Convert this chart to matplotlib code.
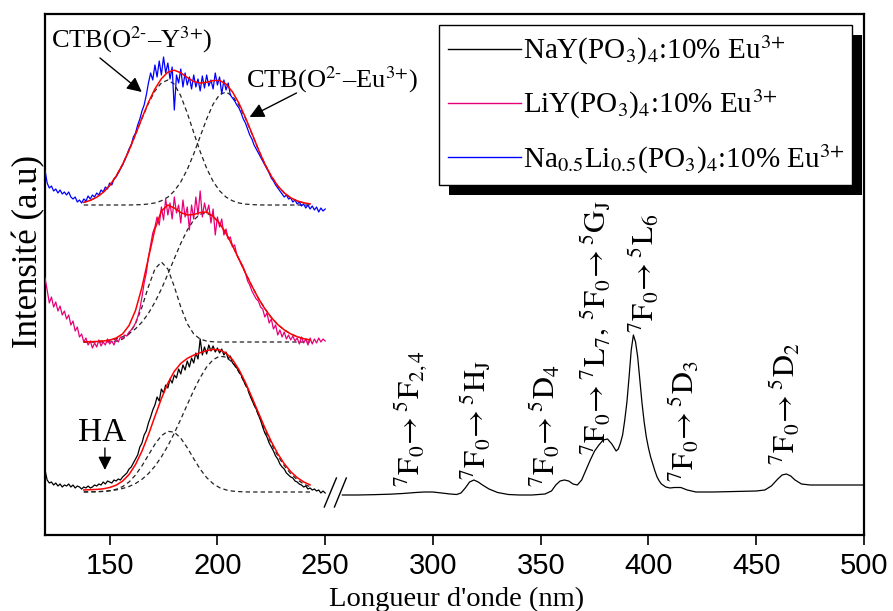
import matplotlib
matplotlib.use('Agg')
import matplotlib.pyplot as plt
from matplotlib.patches import Rectangle
from matplotlib.lines import Line2D

plt.rcParams['font.family'] = ['Liberation Serif', 'DejaVu Serif']
plt.rcParams['mathtext.fontset'] = 'stix'

# ---------------- data (intensity in arbitrary units, stacked) ----------------
x_exc = list(range(120, 251))          # 120 ... 250 nm, 1 nm step
x_fit = list(range(138, 244, 3))       # fit grid 138 ... 243 nm

# NaY(PO3)4 : 10% Eu3+  (black) - CTB region
nay_exc = [65, 55, 52, 53, 50, 52, 49, 51, 48, 50, 49, 51, 48, 50, 47, 49, 48, 46, 48, 47,
           49, 47, 48, 50, 49, 51, 50, 53, 51, 54, 53, 52, 55, 54, 56, 55, 58, 60, 62, 66,
           68, 72, 76, 80, 88, 92, 100, 104, 112, 118, 125, 130, 138, 134, 146, 142, 150, 147, 156, 152,
           160, 157, 166, 161, 170, 165, 174, 168, 177, 172, 182, 176, 196, 180, 188, 181, 190, 184, 189, 183,
           187, 182, 186, 180, 183, 176, 179, 172, 170, 167, 163, 160, 155, 150, 147, 140, 135, 130, 126, 120,
           115, 108, 102, 98, 92, 88, 84, 79, 76, 71, 68, 66, 62, 60, 58, 57, 54, 53, 51, 50,
           48, 49, 46, 47, 45, 46, 44, 45, 42, 44, 42]
nay_fit = [45, 45.3, 45.6, 46.2, 47.5, 49.8, 53.9, 60.5, 70.5, 83.9, 100.4, 118.6, 136.4, 151.8, 163.7,
           171.6, 176.6, 179.9, 182.3, 184.4, 185.6, 185.1, 182, 175.4, 165.4, 152.5, 137.7, 122.4, 107.3,
           93.4, 81.3, 71.3, 63.4, 57.4, 53.1, 50.1]
nay_g1 = [43.0, 43.1, 43.2, 43.5, 44.2, 45.7, 48.4, 53.0, 60.0, 69.2, 80.0, 90.8, 99.3, 103.7, 102.8,
          96.8, 87.3, 76.3, 65.9, 57.4, 51.3, 47.3, 45.1, 43.9, 43.4, 43.1, 43.0, 43.0, 43.0,
          43.0, 43.0, 43.0, 43.0, 43.0, 43.0, 43.0]
nay_g2 = [43.1, 43.2, 43.4, 43.7, 44.3, 45.1, 46.5, 48.5, 51.5, 55.7, 61.4, 68.8, 78.1, 89.1, 101.9,
          115.8, 130.3, 144.6, 157.4, 168.0, 175.3, 178.8, 177.9, 172.5, 163.0, 150.4, 135.7, 120.4, 105.3,
          91.4, 79.3, 69.3, 61.4, 55.4, 51.1, 48.1]

# LiY(PO3)4 : 10% Eu3+  (pink)
liy_exc = [257, 245, 232, 238, 228, 233, 224, 229, 220, 224, 216, 220, 210, 214, 204, 208, 198, 201, 193, 197,
           190, 194, 187, 192, 188, 195, 189, 193, 190, 196, 191, 194, 190, 196, 193, 198, 196, 200, 199, 203,
           205, 208, 212, 218, 226, 238, 252, 262, 278, 290, 302, 308, 318, 310, 328, 315, 336, 320, 332, 316,
           338, 322, 330, 312, 335, 318, 328, 305, 330, 316, 338, 320, 344, 318, 332, 322, 330, 312, 326, 300,
           318, 308, 316, 300, 306, 296, 298, 288, 290, 280, 276, 272, 268, 262, 254, 250, 244, 240, 236, 234,
           228, 226, 218, 222, 212, 216, 206, 210, 200, 205, 198, 203, 196, 200, 195, 199, 194, 197, 191, 198,
           192, 196, 190, 197, 191, 196, 192, 197, 193, 196, 194]
liy_fit = [193.1, 193.3, 193.5, 194.0, 194.9, 197.0, 201.1, 209.5, 224.6, 247.9, 277.1, 305.8, 324, 330, 327,
           322.5, 320, 320.5, 322.5, 323, 318.7, 311.6, 301.5, 289.4, 275.8, 262.0, 248.9, 236.7, 226.3,
           217.5, 210.4, 205.1, 201.1, 198.3, 196.3, 195.0]
liy_g1 = [193, 193, 193, 193, 193.2, 193.9, 195.9, 201.0, 211.4, 228.0, 248.4, 266.0, 273, 266.0, 248.4,
          228.0, 211.4, 201.0, 195.9, 193.9, 193.2, 193, 193, 193, 193, 193, 193, 193, 193,
          193, 193, 193, 193, 193, 193, 193]
liy_g2 = [193.1, 193.3, 193.5, 194.0, 194.7, 196.1, 198.2, 201.5, 206.2, 212.9, 221.7, 232.8, 246.0, 260.9, 276.4,
          291.6, 304.9, 315.0, 320.8, 321.8, 318.5, 311.6, 301.5, 289.4, 275.8, 262.0, 248.9, 236.7, 226.3,
          217.5, 210.4, 205.1, 201.1, 198.3, 196.3, 195.0]

# Na0.5Li0.5(PO3)4 : 10% Eu3+  (blue)
nali_exc = [365, 352, 347, 349, 344, 346, 342, 345, 341, 343, 340, 343, 338, 336, 338, 333, 335, 332, 336, 334,
            339, 336, 340, 338, 342, 340, 345, 343, 348, 346, 352, 350, 356, 358, 362, 366, 370, 375, 380, 386,
            390, 398, 402, 410, 416, 424, 430, 440, 452, 462, 455, 470, 458, 474, 460, 478, 462, 472, 456, 468,
            425, 460, 452, 466, 448, 462, 450, 458, 446, 460, 448, 456, 444, 459, 447, 460, 449, 455, 446, 462,
            450, 458, 441, 455, 445, 452, 440, 437, 434, 430, 427, 422, 416, 412, 406, 400, 396, 390, 386, 382,
            378, 374, 370, 366, 362, 357, 354, 350, 347, 344, 341, 338, 340, 336, 337, 333, 335, 331, 333, 329,
            331, 327, 330, 326, 329, 325, 328, 323, 327, 324, 326]
nali_fit = [332.6, 334.6, 337.8, 342.6, 349.5, 358.8, 370.6, 384.7, 400.6, 417.0, 432.7, 446.1, 456.3, 462.9, 464.8,
            462.2, 457.5, 453.5, 451.9, 452.7, 454.4, 454.6, 450.9, 443.1, 431.7, 417.5, 401.6, 385.6, 371.0,
            358.8, 349.1, 342.1, 337.2, 334.1, 332.2, 331.1]
nali_g1 = [332.6, 334.6, 337.8, 342.6, 349.5, 358.8, 370.6, 384.7, 400.4, 416.6, 431.7, 444.0, 452.1, 455, 450.8,
           439.1, 422.0, 402.5, 383.4, 366.7, 353.6, 344.2, 337.9, 334.2, 332.0, 330.9, 330.4, 330.1, 330,
           330, 330, 330, 330, 330, 330, 330]
nali_g2 = [330, 330, 330, 330, 330, 330, 330, 330, 330.2, 330.4, 331.0, 332.1, 334.2, 337.9, 344.0,
           353.1, 365.5, 381.0, 398.5, 416.0, 430.8, 440.4, 443.0, 438.9, 429.7, 416.6, 401.2, 385.5, 371.0,
           358.8, 349.1, 342.1, 337.2, 334.1, 332.2, 331.1]

# NaY(PO3)4 : 10% Eu3+ - f-f region after the axis break
x_ff = [258, 265, 272, 280, 286, 292, 296, 300, 304, 308, 311, 313, 315, 317, 319, 321, 323, 326, 330, 335,
        340, 346, 352, 355, 357, 359, 361, 363, 365, 367, 369, 371, 373, 375, 377, 379, 381, 383, 385, 386,
        387, 388, 389, 390, 391, 392, 393, 394, 395, 396, 397, 398, 399, 400, 401, 402, 403, 404, 405, 406,
        408, 410, 412, 415, 418, 422, 430, 440, 450, 454, 457, 460, 462, 464, 466, 468, 471, 475, 485, 500]
y_ff = [40, 40, 40.3, 40.8, 41.5, 42.5, 43, 43, 42, 41, 40.5, 42, 47, 53, 55, 53, 50, 46, 42.5, 40.5,
        40, 40, 41, 44, 50, 54, 55, 54, 51, 50, 55, 65, 75, 84, 90, 95, 96, 91, 84, 86,
        92, 100, 115, 133, 158, 185, 200, 193, 178, 155, 132, 113, 98, 87, 78, 71, 64, 58, 54, 51,
        48, 47, 47.5, 47.5, 45, 43, 43, 43.5, 44, 45, 49, 56, 60, 61, 59, 55, 51, 50, 50, 50]

# axis-break marker
break_x1 = [249.6, 255.2]
break_x2 = [254.3, 259.8]
break_y = [28, 57]

xticks = [150, 200, 250, 300, 350, 400, 450, 500]
legend_labels = [r'NaY(PO$_3$)$_4$:10% Eu$^{3\text{+}}$',
                 r'LiY(PO$_3$)$_4$:10% Eu$^{3\text{+}}$',
                 r'Na$_{0.5}$Li$_{0.5}$(PO$_3$)$_4$:10% Eu$^{3\text{+}}$']
series_colors = ['black', '#e6007a', '#0000ff']

transitions = [
    (289.5, 48, r'$\mathrm{{}^7F_0\!\rightarrow{}^5F_{2,4}}$'),
    (320.5, 55, r'$\mathrm{{}^7F_0\!\rightarrow{}^5H_J}$'),
    (352.4, 48, r'$\mathrm{{}^7F_0\!\rightarrow{}^5D_4}$'),
    (375.5, 80, r'$\mathrm{{}^7F_0\!\rightarrow{}^7L_7,\,{}^5F_0\!\rightarrow{}^5G_J}$'),
    (398.3, 202, r'$\mathrm{{}^7F_0\!\rightarrow{}^5L_6}$'),
    (416.8, 53, r'$\mathrm{{}^7F_0\!\rightarrow{}^5D_3}$'),
    (463.5, 70, r'$\mathrm{{}^7F_0\!\rightarrow{}^5D_2}$'),
]

# ---------------- figure ----------------
W, H = 893, 611
fig = plt.figure(figsize=(W / 100, H / 100), dpi=100)
ax = fig.add_axes([45 / W, 1 - 535 / H, (864 - 45) / W, (535 - 14) / H])

dash = (0, (3.5, 2.5))
for g in (nay_g1, nay_g2, liy_g1, liy_g2, nali_g1, nali_g2):
    ax.plot(x_fit, g, color='#222222', lw=0.9, ls=dash, zorder=2)

ax.plot(x_exc, nali_exc, color=series_colors[2], lw=0.9, zorder=3)
ax.plot(x_exc, liy_exc, color=series_colors[1], lw=0.9, zorder=3)
ax.plot(x_exc, nay_exc, color=series_colors[0], lw=0.9, zorder=3)
for f in (nali_fit, liy_fit, nay_fit):
    ax.plot(x_fit, f, color='red', lw=1.1, zorder=4)

ax.plot(x_ff, y_ff, color='black', lw=0.9, zorder=3)
ax.plot(break_x1, break_y, color='black', lw=1.0)
ax.plot(break_x2, break_y, color='black', lw=1.0)

ax.set_xlim(120, 500)
ax.set_ylim(0, 521)
ax.set_yticks([])
ax.set_xticks(xticks)
ax.tick_params(axis='x', direction='out', length=7, width=1.2, pad=5, labelsize=21)
for lab in ax.get_xticklabels():
    lab.set_fontfamily(['Liberation Sans', 'DejaVu Sans'])
for s in ax.spines.values():
    s.set_linewidth(1.6)

ax.set_xlabel("Longueur d'onde (nm)", fontsize=20.5)
ax.xaxis.set_label_coords(0.503, -0.1)
ax.set_ylabel('Intensité (a.u)', fontsize=25)
ax.yaxis.set_label_coords(0.0, 0.545)

# annotations
akw = dict(arrowstyle='-|>', color='black', lw=1.0, mutation_scale=22, shrinkA=0, shrinkB=0)
ax.text(160.3, 495, r'CTB(O$^{2\text{-}}$–Y$^{3\text{+}}$)', fontsize=19, ha='center', va='center')
ax.annotate('', xy=(164.9, 443), xytext=(145.5, 477), arrowprops=akw)
ax.text(253.3, 455, r'CTB(O$^{2\text{-}}$–Eu$^{3\text{+}}$)', fontsize=19, ha='center', va='center')
ax.annotate('', xy=(214.9, 418), xytext=(236.7, 442), arrowprops=akw)
ax.text(146.4, 102, 'HA', fontsize=24, ha='center', va='center')
ax.annotate('', xy=(147.8, 65), xytext=(147.8, 87), arrowprops=dict(akw, mutation_scale=20))

for x, y, t in transitions:
    ax.text(x, y, t, fontsize=22, rotation=90, ha='center', va='bottom')

handles = [Line2D([], [], color=c, lw=1.0) for c in series_colors]
leg = ax.legend(handles, legend_labels, loc='upper left',
                bbox_to_anchor=(439 / W, 1 - 25 / H, (852 - 439) / W, 0),
                bbox_transform=fig.transFigure, mode='expand', borderaxespad=0,
                handlelength=2.5, handletextpad=0.08, fontsize=21, labelspacing=0.72,
                borderpad=0.3, frameon=True, fancybox=False, edgecolor='black', framealpha=1)
leg.get_frame().set_linewidth(1.0)
leg.set_zorder(6)

fig.canvas.draw()
bb = leg.get_window_extent()
inv = fig.transFigure.inverted()
(x0, y0), (x1, y1) = inv.transform([(bb.x0 + 10, bb.y0 - 10), (bb.x1 + 10, bb.y1 - 10)])
ax.add_patch(Rectangle((x0, y0), x1 - x0, y1 - y0, transform=fig.transFigure,
                       facecolor='black', edgecolor='none', zorder=5.5, clip_on=False))

fig.savefig('out.png', dpi=100)
